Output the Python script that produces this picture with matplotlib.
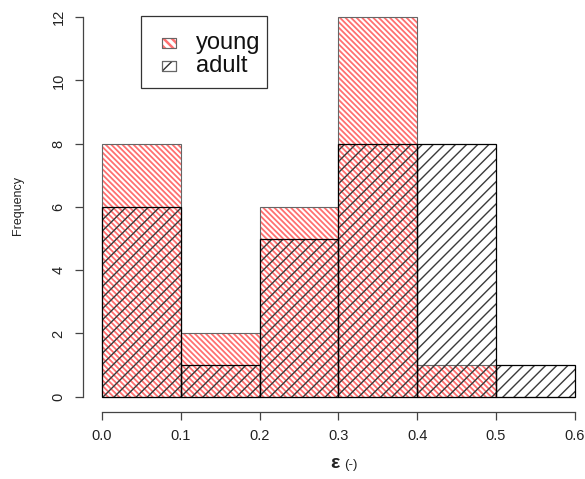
import matplotlib
matplotlib.use("Agg")
import matplotlib.pyplot as plt
from matplotlib.patches import Rectangle

bin_edges = [0.0, 0.1, 0.2, 0.3, 0.4, 0.5, 0.6]
young_counts = [8, 2, 6, 12, 1, 0]
adult_counts = [6, 1, 5, 8, 8, 1]
x_ticks = [0.0, 0.1, 0.2, 0.3, 0.4, 0.5, 0.6]
y_ticks = [0, 2, 4, 6, 8, 10, 12]
groups = ["young", "adult"]

plt.rcParams["font.family"] = ["Liberation Sans", "DejaVu Sans"]

red = "#ff7070"
young_hatch = "\\" * 6
adult_hatch = "///"

W, H = 585, 479
fig = plt.figure(figsize=(W / 100, H / 100), dpi=100)
ax = fig.add_axes([0.142, 0.140, 0.873, 0.856])

lefts = bin_edges[:-1]
width = bin_edges[1] - bin_edges[0]

# young: dense red hatch
with plt.rc_context({"hatch.linewidth": 1.3}):
    ax.bar(lefts, young_counts, width=width, align="edge", color="none",
           edgecolor=red, hatch=young_hatch, linewidth=0)
ax.bar(lefts, young_counts, width=width, align="edge", color="none",
       edgecolor="#666666", linewidth=0.8)
# adult: sparse black hatch on top
with plt.rc_context({"hatch.linewidth": 1.0}):
    ax.bar(lefts, adult_counts, width=width, align="edge", color="none",
           edgecolor="#3a3a3a", hatch=adult_hatch, linewidth=0)
ax.bar(lefts, adult_counts, width=width, align="edge", color="none",
       edgecolor="black", linewidth=0.9)

ax.set_xlim(-0.024, 0.624)
ax.set_ylim(-0.48, 12.48)

for s in ["top", "right"]:
    ax.spines[s].set_visible(False)
ax.spines["left"].set_bounds(0, 12)
ax.spines["bottom"].set_bounds(0, 0.6)
for s in ["left", "bottom"]:
    ax.spines[s].set_color("#444444")
    ax.spines[s].set_linewidth(0.9)

ax.set_xticks(x_ticks)
ax.set_xticklabels(["%.1f" % v for v in x_ticks], fontsize=10.5, color="#222222")
ax.set_yticks(y_ticks)
ax.set_yticklabels([str(v) for v in y_ticks], fontsize=10.5, rotation=90,
                   va="center", color="#222222")
ax.tick_params(axis="both", length=5.5, width=0.9, color="#444444", pad=7)

fig.text(0.031, 0.57, "Frequency", rotation=90, fontsize=9,
         ha="center", va="center", color="#222222")
fig.text(0.572, 0.022, "\u03b5", fontsize=14, fontweight="bold",
         ha="center", va="baseline", color="#222222")
fig.text(0.588, 0.024, "(-)", fontsize=9.5, ha="left", va="baseline",
         color="#222222")

# legend box drawn by hand, R style (pixel coords from top-left)
def px(x, y):
    return x / W, 1 - y / H

x0, y0 = px(141, 88)
x1, y1 = px(267, 16)
fig.patches.append(Rectangle((x0, y0), x1 - x0, y1 - y0, transform=fig.transFigure,
                             facecolor="white", edgecolor="#333333", linewidth=0.9))
swatches = [(red, "\\" * 4, 1.8), ("#333333", "/", 1.0)]
for i, (lab, (ec, hat, hlw)) in enumerate(zip(groups, swatches)):
    yc = 43 + i * 23
    sx, sy = px(162, yc + 5)
    sw, sh = 14 / W, 10 / H
    with plt.rc_context({"hatch.linewidth": hlw}):
        fig.patches.append(Rectangle((sx, sy), sw, sh, transform=fig.transFigure,
                                     facecolor="none", edgecolor=ec, hatch=hat,
                                     linewidth=0.8))
    fig.patches.append(Rectangle((sx, sy), sw, sh, transform=fig.transFigure,
                                 facecolor="none", edgecolor="#666666",
                                 linewidth=0.8))
    tx, ty = px(196, yc)
    fig.text(tx, ty, lab, fontsize=17, ha="left", va="center",
             color="#111111")

fig.savefig("out.png", dpi=100)
